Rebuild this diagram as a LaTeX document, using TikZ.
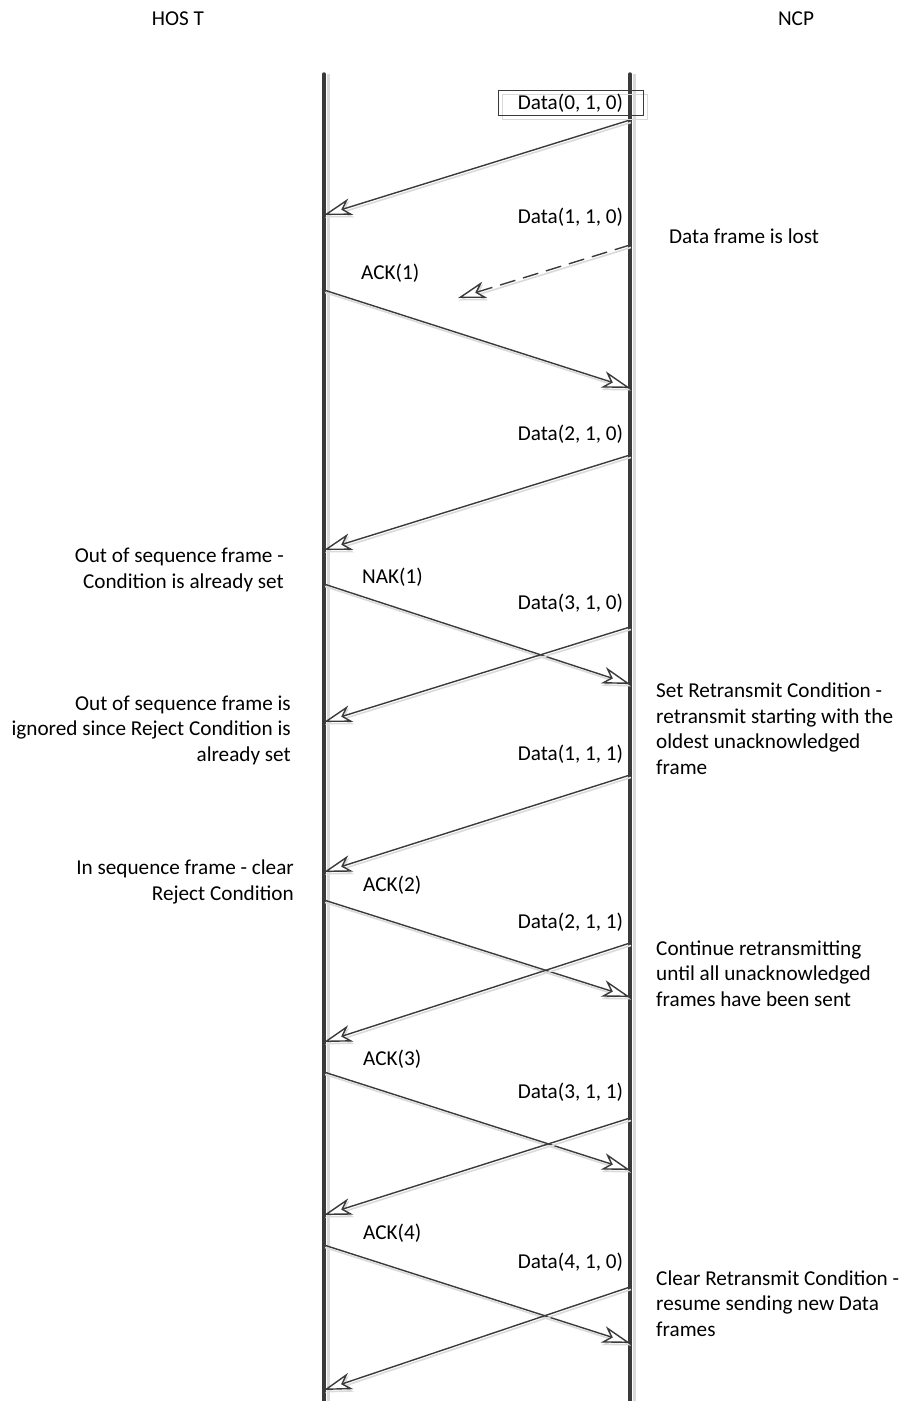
\documentclass[tikz,border=0pt]{standalone}
\usepackage{fontspec}
\setmainfont{Carlito}
\usetikzlibrary{arrows.meta}
\definecolor{linegray}{HTML}{3A3A3A}
\definecolor{shadowgray}{HTML}{DADADA}

\begin{document}
\begin{tikzpicture}[x=1pt,y=-1pt]
		\tikzstyle{txt}=[inner sep=0pt,font=\fontsize{21.2}{25.5}\selectfont]
		\tikzstyle{life}=[draw=linegray,line width=3.5pt,line cap=round,
			preaction={draw=shadowgray,line width=3pt,transform canvas={shift={(4pt,0pt)}}}]
		\tikzstyle{msg}=[draw=linegray,line width=1.4pt,
			-{Stealth[length=28pt,width=17pt,inset=8pt,fill=white]},
			preaction={draw=shadowgray,line width=1.6pt,transform canvas={shift={(1pt,-2.5pt)}}}]
		\useasboundingbox (0,0) rectangle (902,1401);

		% lifelines
		\node[txt,anchor=base] (host) at (178,25) {HOS T};
		\node[txt,anchor=base] (ncp)  at (796,25) {NCP};
		\coordinate (h-top) at (324,74);
		\coordinate (h-end) at (324,1401);
		\coordinate (n-top) at (630,74);
		\coordinate (n-end) at (630,1401);
		\path[life] (h-top) -- (h-end);
		\path[life] (n-top) -- (n-end);

		\begin{scope}
		\coordinate (n-1)  at (630,120);  \coordinate (h-1)  at (324,215);
		\coordinate (n-2)  at (630,245);  \coordinate (lost) at (458,298);
		\coordinate (h-2)  at (324,290);  \coordinate (n-3)  at (630,388);
		\coordinate (n-4)  at (630,455);  \coordinate (h-3)  at (324,550);
		\coordinate (h-4)  at (324,584);  \coordinate (n-5)  at (630,684);
		\coordinate (n-6)  at (630,627);  \coordinate (h-5)  at (324,722);
		\coordinate (n-7)  at (630,775);  \coordinate (h-6)  at (324,872);
		\coordinate (h-7)  at (324,900);  \coordinate (n-8)  at (630,997);
		\coordinate (n-9)  at (630,943);  \coordinate (h-8)  at (324,1042);
		\coordinate (h-9)  at (324,1072); \coordinate (n-10) at (630,1170);
		\coordinate (n-11) at (630,1118); \coordinate (h-10) at (324,1215);
		\coordinate (h-11) at (324,1245); \coordinate (n-12) at (630,1343);
		\coordinate (n-13) at (630,1287); \coordinate (h-12) at (324,1390);
		\end{scope}

		\path[-]
		(n-1) edge[msg] (h-1)
		(n-2) edge[msg,dash pattern=on 16pt off 8pt] (lost)
		(h-2) edge[msg] (n-3)
		(n-4) edge[msg] (h-3)
		(h-4) edge[msg] (n-5)
		(n-6) edge[msg] (h-5)
		(n-7) edge[msg] (h-6)
		(h-7) edge[msg] (n-8)
		(n-9) edge[msg] (h-8)
		(h-9) edge[msg] (n-10)
		(n-11) edge[msg] (h-10)
		(h-11) edge[msg] (n-12)
		(n-13) edge[msg] (h-12)
		;

		% frame labels
		\node[txt,draw=linegray,line width=0.8pt,minimum width=145pt,minimum height=25pt,
			preaction={draw=shadowgray,line width=0.8pt,transform canvas={shift={(4pt,-4pt)}}}]
			(d-010) at (570.5,103) {Data(0, 1, 0)};
		\node[txt,anchor=base] (d-110) at (570.5,223)  {Data(1, 1, 0)};
		\node[txt,anchor=base] (d-210) at (570.5,440)  {Data(2, 1, 0)};
		\node[txt,anchor=base] (d-310) at (570.5,609)  {Data(3, 1, 0)};
		\node[txt,anchor=base] (d-111) at (570.5,760)  {Data(1, 1, 1)};
		\node[txt,anchor=base] (d-211) at (570.5,928)  {Data(2, 1, 1)};
		\node[txt,anchor=base] (d-311) at (570.5,1098) {Data(3, 1, 1)};
		\node[txt,anchor=base] (d-410) at (570.5,1268) {Data(4, 1, 0)};
		\node[txt,anchor=base west] (ack-1) at (361,279)  {ACK(1)};
		\node[txt,anchor=base west] (nak-1) at (362,583)  {NAK(1)};
		\node[txt,anchor=base west] (ack-2) at (363,891)  {ACK(2)};
		\node[txt,anchor=base west] (ack-3) at (363,1065) {ACK(3)};
		\node[txt,anchor=base west] (ack-4) at (363,1239) {ACK(4)};

		% notes (base = last line)
		\node[txt,anchor=base east,align=right] (note-h1) at (284,588)
			{Out of sequence frame -\\Condition is already set};
		\node[txt,anchor=base east,align=right] (note-h2) at (291,761)
			{Out of sequence frame is\\ignored since Reject Condition is\\already set};
		\node[txt,anchor=base east,align=right] (note-h3) at (294,900)
			{In sequence frame - clear\\Reject Condition};
		\node[txt,anchor=base west] (note-lost) at (669,243) {Data frame is lost};
		\node[txt,anchor=base west,align=left] (note-n1) at (656,774)
			{Set Retransmit Condition -\\retransmit starting with the\\oldest unacknowledged\\frame};
		\node[txt,anchor=base west,align=left] (note-n2) at (656,1006)
			{Continue retransmitting\\until all unacknowledged\\frames have been sent};
		\node[txt,anchor=base west,align=left] (note-n3) at (656,1336)
			{Clear Retransmit Condition -\\resume sending new Data\\frames};
\end{tikzpicture}
\end{document}
